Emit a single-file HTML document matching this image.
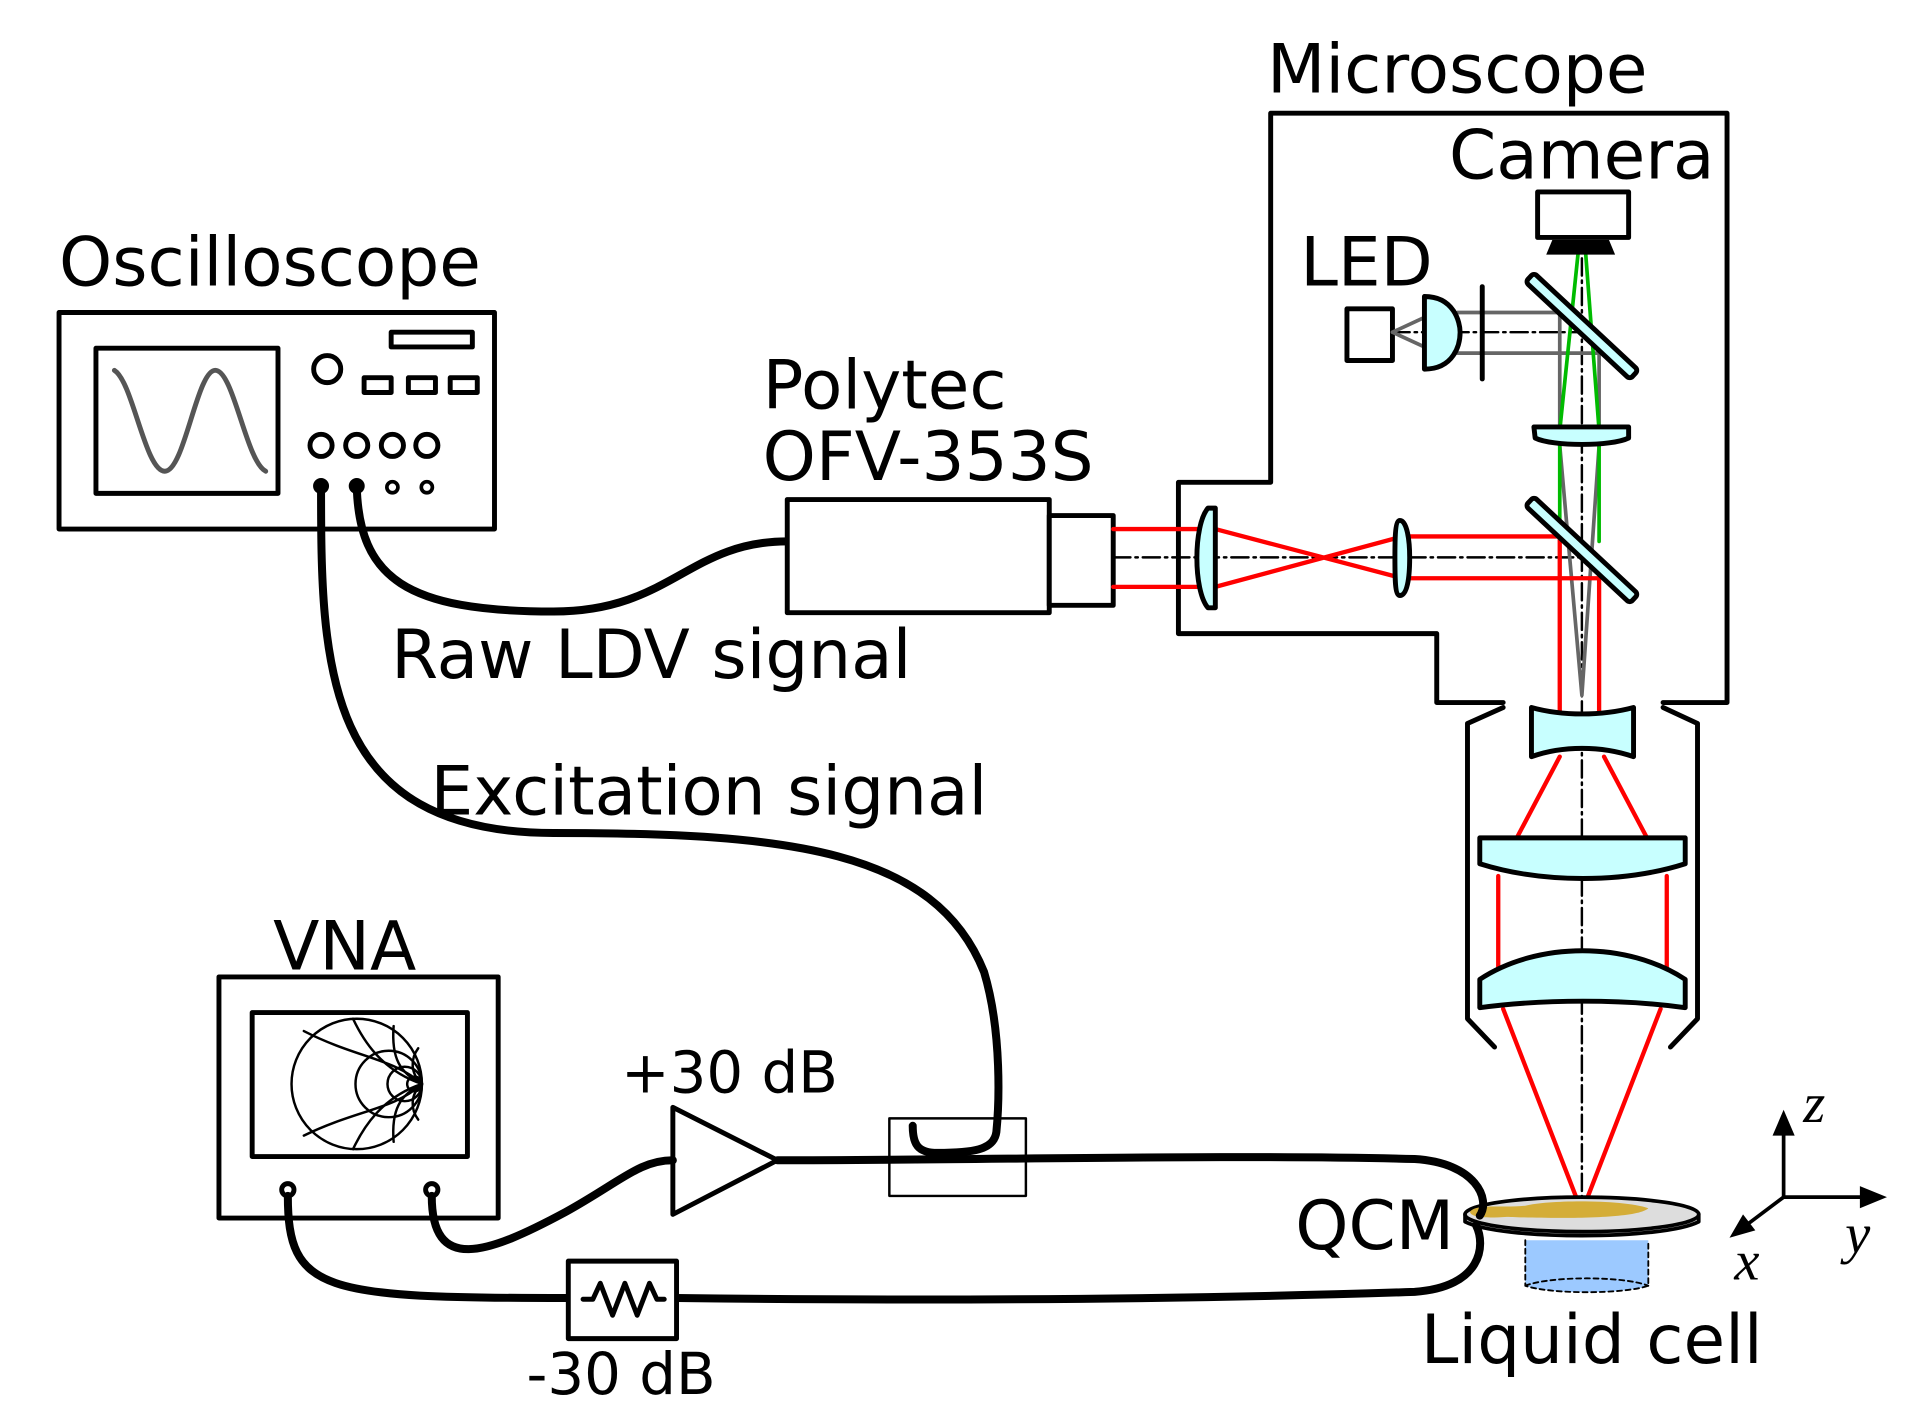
<!DOCTYPE html>
<html><head><meta charset="utf-8"><style>
html,body{margin:0;padding:0;background:#fff;}
svg{display:block;}
text{font-family:"DejaVu Sans","Liberation Sans",sans-serif;fill:#000;}
.it{font-family:"Liberation Serif","DejaVu Serif",serif;font-style:italic;}
</style></head><body>
<svg width="1930" height="1426" viewBox="0 0 1569 1159" preserveAspectRatio="none" xmlns="http://www.w3.org/2000/svg">
<rect width="1569" height="1159" fill="#fff"/>
<g stroke-linejoin="round" stroke-linecap="round">
<!-- Oscilloscope -->
<text x="48" y="232" font-size="55">Oscilloscope</text>
<rect x="48" y="254" width="354" height="176" fill="none" stroke="#000" stroke-width="4"/>
<rect x="78" y="283" width="148" height="118" fill="none" stroke="#000" stroke-width="4"/>
<path d="M93,301 C108,310 118,383 134,383 C150,383 160,301 175,301 C190,301 200,375 216,383" fill="none" stroke="#555" stroke-width="4"/>
<rect x="318" y="270" width="66" height="12" fill="none" stroke="#000" stroke-width="4"/>
<circle cx="266" cy="300" r="11" fill="none" stroke="#000" stroke-width="4"/>
<rect x="296" y="307" width="22" height="12" fill="none" stroke="#000" stroke-width="4"/>
<rect x="332" y="307" width="22" height="12" fill="none" stroke="#000" stroke-width="4"/>
<rect x="366" y="307" width="22" height="12" fill="none" stroke="#000" stroke-width="4"/>
<circle cx="261" cy="362" r="9" fill="none" stroke="#000" stroke-width="4"/>
<circle cx="290" cy="362" r="9" fill="none" stroke="#000" stroke-width="4"/>
<circle cx="319" cy="362" r="9" fill="none" stroke="#000" stroke-width="4"/>
<circle cx="347" cy="362" r="9" fill="none" stroke="#000" stroke-width="4"/>
<circle cx="319" cy="396" r="4.5" fill="none" stroke="#000" stroke-width="3"/>
<circle cx="347" cy="396" r="4.5" fill="none" stroke="#000" stroke-width="3"/>
<circle cx="261" cy="395" r="6.5" fill="#000"/>
<circle cx="290" cy="395" r="6.5" fill="#000"/>

<path d="M290,395 C292,470 330,497 450,497 C545,497 560,440 640,440" fill="none" stroke="#000" stroke-width="6.5"/>
<path d="M261,395 C261,540 262,677 450,677 C640,677 760,690 800,790 C815,840 812,900 810,920 C808,935 790,937 762,937 C746,937 742,930 742,915" fill="none" stroke="#000" stroke-width="6.5"/>
<rect x="723" y="909" width="111" height="63" fill="none" stroke="#000" stroke-width="2"/>

<text x="318" y="551" font-size="55">Raw LDV signal</text>
<text x="350" y="662" font-size="55">Excitation signal</text>

<text x="620" y="332" font-size="55">Polytec</text>
<text x="620" y="390" font-size="55">OFV-353S</text>
<rect x="640" y="406" width="213" height="92" fill="#fff" stroke="#000" stroke-width="4"/>
<rect x="853" y="419" width="52" height="73" fill="#fff" stroke="#000" stroke-width="4"/>

<text x="1030" y="75" font-size="55">Microscope</text>
<path d="M1222,571 H1168 V515 H958 V392 H1033 V92 H1404 V571 H1352" fill="none" stroke="#000" stroke-width="4"/>
<path d="M1222,575 L1193,588 V828 L1215,851" fill="none" stroke="#000" stroke-width="4"/>
<path d="M1352,575 L1380,588 V828 L1358,851" fill="none" stroke="#000" stroke-width="4"/>

<g stroke="#000" stroke-width="2" stroke-dasharray="14,4,2,4" fill="none">
<line x1="1286" y1="210" x2="1286" y2="985"/>
<line x1="905" y1="453" x2="1290" y2="453"/>
<line x1="1132" y1="270" x2="1286" y2="270"/>
</g>

<text x="1057" y="232" font-size="55">LED</text>
<rect x="1095" y="251" width="37" height="42" fill="none" stroke="#000" stroke-width="4"/>
<path d="M1132,270 L1158,258 M1132,270 L1158,282" stroke="#666" stroke-width="3"/>
<path d="M1185,254 H1268 V350 M1185,287 H1300 V350" fill="none" stroke="#666" stroke-width="3"/>
<path d="M1268,362 L1286,565 L1300,362" fill="none" stroke="#666" stroke-width="3"/>
<path d="M1158,241 C1182,241 1187,262 1187,270 C1187,280 1182,300 1158,300 Z" fill="#c8ffff" stroke="#000" stroke-width="4"/>
<line x1="1205" y1="233" x2="1205" y2="308" stroke="#000" stroke-width="4"/>

<path d="M1283,205 L1268,350 M1289,205 L1300,350 M1268,362 V430 M1300,362 V440" fill="none" stroke="#00bb00" stroke-width="3"/>

<text x="1178" y="145" font-size="55">Camera</text>
<rect x="1250" y="156" width="74" height="37" fill="#fff" stroke="#000" stroke-width="4"/>
<path d="M1262,195 H1308 L1313,207 H1257 Z" fill="#000"/>

<g stroke="#ff0000" stroke-width="3.5" fill="none">
<path d="M905,430 H975 M905,477 H975"/>
<path d="M988,430 L1140,470 M988,477 L1140,436"/>
<path d="M1140,436 H1268 V590 M1140,470 H1300 V590"/>
<path d="M1268,615 L1232,683 M1304,615 L1340,683"/>
<path d="M1218,712 V795 M1355,712 V795"/>
<path d="M1222,820 L1286,985 L1350,820"/>
</g>

<g transform="translate(1286,265) rotate(43)"><rect x="-58" y="-5" width="116" height="10" rx="3" fill="#c8ffff" stroke="#000" stroke-width="4"/></g>
<g transform="translate(1286,447) rotate(43)"><rect x="-58" y="-5" width="116" height="10" rx="3" fill="#c8ffff" stroke="#000" stroke-width="4"/></g>

<path d="M1247,347 H1324 V356 C1310,363 1262,363 1248,356 Z" fill="#c8ffff" stroke="#000" stroke-width="4"/>

<path d="M982,413 H988 V494 H982 C970,480 970,427 982,413 Z" fill="#c8ffff" stroke="#000" stroke-width="4"/>
<path d="M1138,423 C1144,423 1146,440 1146,453 C1146,470 1144,484 1138,484 C1134,484 1134,470 1134,453 C1134,440 1134,423 1138,423 Z" fill="#c8ffff" stroke="#000" stroke-width="4"/>

<path d="M1245,575 C1270,582 1302,582 1328,575 V615 C1302,606 1270,606 1245,615 Z" fill="#c8ffff" stroke="#000" stroke-width="4"/>
<path d="M1203,681 H1370 V702 C1320,718 1254,718 1203,702 Z" fill="#c8ffff" stroke="#000" stroke-width="4"/>
<path d="M1203,796 C1250,765 1323,765 1370,796 V819 C1320,812 1254,812 1203,819 Z" fill="#c8ffff" stroke="#000" stroke-width="4"/>

<path d="M1240,1008 V1045 C1260,1052 1320,1052 1340,1045 V1008 Z" fill="#9cc9ff"/>
<path d="M1240,1008 V1045 C1260,1052 1320,1052 1340,1045 V1008 M1240,1045 C1260,1037 1320,1037 1340,1045" fill="none" stroke="#000" stroke-width="1.5" stroke-dasharray="4,3"/>
<path d="M1191,987 V993 C1220,1008 1352,1008 1381,993 V987" fill="#bbb" stroke="#000" stroke-width="3"/>
<ellipse cx="1286" cy="987" rx="95" ry="14" fill="#ddd" stroke="#000" stroke-width="3"/>
<path d="M1195,985 C1200,978 1220,982 1240,980 C1260,975 1320,975 1340,982 C1330,992 1250,990 1225,989 C1210,990 1196,990 1195,985 Z" fill="#d4ad38"/>
<text x="1053" y="1015" font-size="55">QCM</text>
<text x="1155" y="1108" font-size="55">Liquid cell</text>

<g stroke="#000" stroke-width="3" fill="none">
<line x1="1450" y1="973" x2="1450" y2="918"/>
<line x1="1450" y1="973" x2="1520" y2="973"/>
<line x1="1450" y1="973" x2="1418" y2="997"/>
</g>
<path d="M1450,902 L1441,923 L1459,923 Z M1534,973 L1512,964 L1512,982 Z M1406,1006 L1427,1000 L1417,987 Z" fill="#000"/>
<text class="it" x="1466" y="912" font-size="46">z</text>
<text class="it" x="1500" y="1018" font-size="46">y</text>
<text class="it" x="1410" y="1040" font-size="46">x</text>

<text x="222" y="788" font-size="55">VNA</text>
<rect x="178" y="794" width="227" height="196" fill="none" stroke="#000" stroke-width="4"/>
<rect x="205" y="823" width="175" height="117" fill="none" stroke="#000" stroke-width="4"/>
<g fill="none" stroke="#000" stroke-width="2">
<circle cx="290" cy="881" r="53"/>
<circle cx="316" cy="881" r="27"/>
<circle cx="329" cy="881" r="14"/>
<circle cx="337" cy="881" r="6"/>
<path d="M343,881 C320,860 290,860 247,838 M343,881 C320,902 290,902 247,923"/>
<path d="M343,881 C310,870 295,845 287,828 M343,881 C310,892 295,917 287,934"/>
<path d="M343,881 C325,872 318,860 320,834 M343,881 C325,890 318,902 320,928"/>
<path d="M343,881 C333,872 334,860 340,852 M343,881 C333,890 334,902 340,910"/>
</g>
<circle cx="234" cy="967" r="5" fill="none" stroke="#000" stroke-width="4"/>
<circle cx="351" cy="967" r="5" fill="none" stroke="#000" stroke-width="4"/>

<text x="505" y="888" font-size="47">+30 dB</text>
<path d="M547,900 V987 L632,943 Z" fill="#fff" stroke="#000" stroke-width="4"/>
<path d="M351,972 C351,1035 395,1020 460,985 C505,960 520,943 547,943" fill="none" stroke="#000" stroke-width="6.5"/>
<path d="M632,943 C800,943 1000,938 1150,942 C1200,945 1212,975 1203,988" fill="none" stroke="#000" stroke-width="6.5"/>
<path d="M234,972 C234,1050 262,1055 460,1055 H550 C800,1058 1000,1055 1150,1050 C1205,1046 1208,1012 1200,996" fill="none" stroke="#000" stroke-width="6.5"/>

<rect x="462" y="1025" width="88" height="63" fill="#fff" stroke="#000" stroke-width="4"/>
<path d="M474,1056 L482,1056 L488,1043 L498,1069 L508,1043 L518,1069 L528,1043 L534,1056 L540,1056" fill="none" stroke="#000" stroke-width="4"/>
<text x="428" y="1133" font-size="47">-30 dB</text>
</g>
</svg>
</body></html>
